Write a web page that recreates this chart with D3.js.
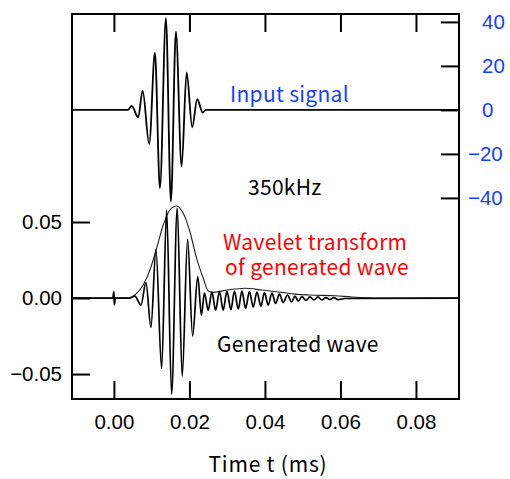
<!DOCTYPE html>
<html>
<head>
<meta charset="utf-8">
<script src="https://cdn.jsdelivr.net/npm/d3@7"></script>
<style>
  body { margin: 0; background: #fff; }
  svg { display: block; }
</style>
</head>
<body>
<div id="chart"></div>
<script>
// time (ms) / value pairs
const inputT = [-0.0111, 0.00371, 0.00469, 0.00644, 0.00760, 0.00935, 0.01086, 0.01219, 0.01377, 0.01510,
  0.01642, 0.01793, 0.01926, 0.02074, 0.02207, 0.02350, 0.02437, 0.0914];
const inputV = [0, 0, 1.8, -3.3, 8.8, -15.5, 26.0, -35.5, 41.7, -41.7,
  35.6, -25.8, 17.0, -7.9, 4.9, -1.2, 0, 0];

const waveT = [-0.0111, -0.0003, 0, 0.0001, 0.0004, 0.00424, 0.00556, 0.00715, 0.00848, 0.00980,
  0.01113, 0.01264, 0.01396, 0.01528, 0.01677, 0.01809, 0.01952, 0.02085, 0.02220, 0.02318,
  0.02397, 0.02498, 0.02596, 0.02694, 0.02795, 0.02895, 0.02993, 0.03099, 0.03192, 0.03293,
  0.03391, 0.03489, 0.03589, 0.03690, 0.03788, 0.03894, 0.03987, 0.04087, 0.04185, 0.04283,
  0.04384, 0.04485, 0.04596, 0.04707, 0.04795, 0.04882, 0.04980, 0.05086, 0.05192, 0.05298,
  0.05404, 0.05510, 0.05616, 0.05722, 0.05828, 0.05934, 0.06119, 0.0914];
const waveV = [0, 0, 0.0042, -0.0045, 0, 0, 0.0013, -0.0046, 0.0101, -0.0193,
  0.0320, -0.0463, 0.0579, -0.0632, 0.0592, -0.0513, 0.0386, -0.0250, 0.0141, -0.0112,
  0.0033, -0.0079, 0.0039, -0.0079, 0.0043, -0.0079, 0.0046, -0.0076, 0.0046, -0.0072,
  0.0046, -0.0066, 0.0043, -0.0059, 0.0039, -0.0053, 0.0036, -0.0046, 0.0033, -0.0036,
  0.0026, -0.0030, 0.0020, -0.0026, 0.0013, -0.0020, 0.0010, -0.0016, 0.0007, -0.0013,
  0.0007, -0.0013, 0.0003, -0.0010, 0.0003, -0.0010, -0.0003, 0];

const envT = [-0.0111, 0.00336, 0.00601, 0.00776, 0.00954, 0.01131, 0.01306, 0.01483, 0.01661, 0.01836,
  0.02013, 0.02191, 0.02366, 0.02498, 0.02630, 0.02914, 0.03205, 0.03470, 0.03913, 0.04442,
  0.04795, 0.05192, 0.05854, 0.06305, 0.07046, 0.0914];
const envV = [0, 0, 0.0031, 0.0086, 0.0184, 0.0327, 0.0480, 0.0579, 0.0605, 0.0557,
  0.0436, 0.0261, 0.0130, 0.0046, 0.0037, 0.0049, 0.0059, 0.0064, 0.0053, 0.0037,
  0.0026, 0.0020, 0.0015, 0.0007, 0, 0];

const xTicks = [0, 0.02, 0.04, 0.06, 0.08];
const leftTicks = [0.05, 0, -0.05];
const rightTicks = [40, 20, 0, -20, -40];

const width = 510, height = 479;
const box = {left: 72, right: 459, top: 14, bottom: 399};
const blue = "#1440ff";

const x = d3.scaleLinear().domain([-0.0111, 0.0914]).range([box.left, box.right]);
const yL = d3.scaleLinear().domain([-0.0664, 0.1868]).range([box.bottom, box.top]);
const yR = d3.scaleLinear().domain([-131.4, 43.6]).range([box.bottom, box.top]);

const svg = d3.select("#chart").append("svg")
    .attr("width", width)
    .attr("height", height)
    .style("font-family", "'Liberation Sans', Arial, sans-serif");

const lineL = d3.line().x(d => x(d[0])).y(d => yL(d[1])).curve(d3.curveMonotoneX);
const lineR = d3.line().x(d => x(d[0])).y(d => yR(d[1])).curve(d3.curveMonotoneX);

svg.append("path")
    .datum(d3.zip(envT, envV))
    .attr("fill", "none")
    .attr("stroke", "#222")
    .attr("stroke-width", 1.1)
    .attr("d", lineL);

svg.append("path")
    .datum(d3.zip(waveT, waveV))
    .attr("fill", "none")
    .attr("stroke", "#000")
    .attr("stroke-width", 1.7)
    .attr("d", lineL);

svg.append("path")
    .datum(d3.zip(inputT, inputV))
    .attr("fill", "none")
    .attr("stroke", "#000")
    .attr("stroke-width", 1.8)
    .attr("d", lineR);

// axes, ticks pointing inward
const fmt = d3.format(".2f");

svg.append("g")
    .attr("transform", `translate(0,${box.bottom})`)
    .call(d3.axisBottom(x).tickValues(xTicks).tickSize(-18).tickPadding(15).tickFormat(fmt));

svg.append("g")
    .attr("transform", `translate(0,${box.top})`)
    .call(d3.axisTop(x).tickValues(xTicks).tickSize(-18).tickFormat(""));

svg.append("g")
    .attr("transform", `translate(${box.left},0)`)
    .call(d3.axisLeft(yL).tickValues(leftTicks).tickSize(-18).tickPadding(10).tickFormat(fmt));

const gr = svg.append("g")
    .attr("transform", `translate(${box.right},0)`)
    .call(d3.axisRight(yR).tickValues(rightTicks).tickSize(-18).tickPadding(23).tickFormat(d3.format("d")));

svg.selectAll(".domain").remove();
svg.selectAll(".tick line").attr("stroke", "#000").attr("stroke-width", 2);
svg.selectAll(".tick text").attr("font-size", 20.5).attr("fill", "#000")
    .attr("font-family", "'Liberation Sans', Arial, sans-serif");
gr.selectAll(".tick text").attr("fill", blue)
    .attr("x", d => d < 0 ? 9 : 23);

svg.append("rect")
    .attr("x", box.left)
    .attr("y", box.top)
    .attr("width", box.right - box.left)
    .attr("height", box.bottom - box.top)
    .attr("fill", "none")
    .attr("stroke", "#000")
    .attr("stroke-width", 2);

// labels
const jp = "'Noto Sans CJK JP', sans-serif";
const labels = [
  {text: "Input signal", x: 230, y: 102, color: blue},
  {text: "350kHz", x: 248, y: 195, color: "#000"},
  {text: "Wavelet transform", x: 223, y: 250, color: "#ff0000"},
  {text: "of generated wave", x: 225, y: 275, color: "#ff0000"},
  {text: "Generated wave", x: 217, y: 352, color: "#000"}
];
svg.selectAll("text.note")
  .data(labels)
  .join("text")
    .attr("class", "note")
    .attr("x", d => d.x)
    .attr("y", d => d.y)
    .attr("fill", d => d.color)
    .attr("font-family", jp)
    .attr("font-size", 21)
    .attr("letter-spacing", 0.3)
    .text(d => d.text);

svg.append("text")
    .attr("x", 268)
    .attr("y", 472)
    .attr("text-anchor", "middle")
    .attr("font-family", jp)
    .attr("font-size", 21)
    .attr("letter-spacing", 0.8)
    .text("Time t\u00a0(ms)");
</script>
</body>
</html>
